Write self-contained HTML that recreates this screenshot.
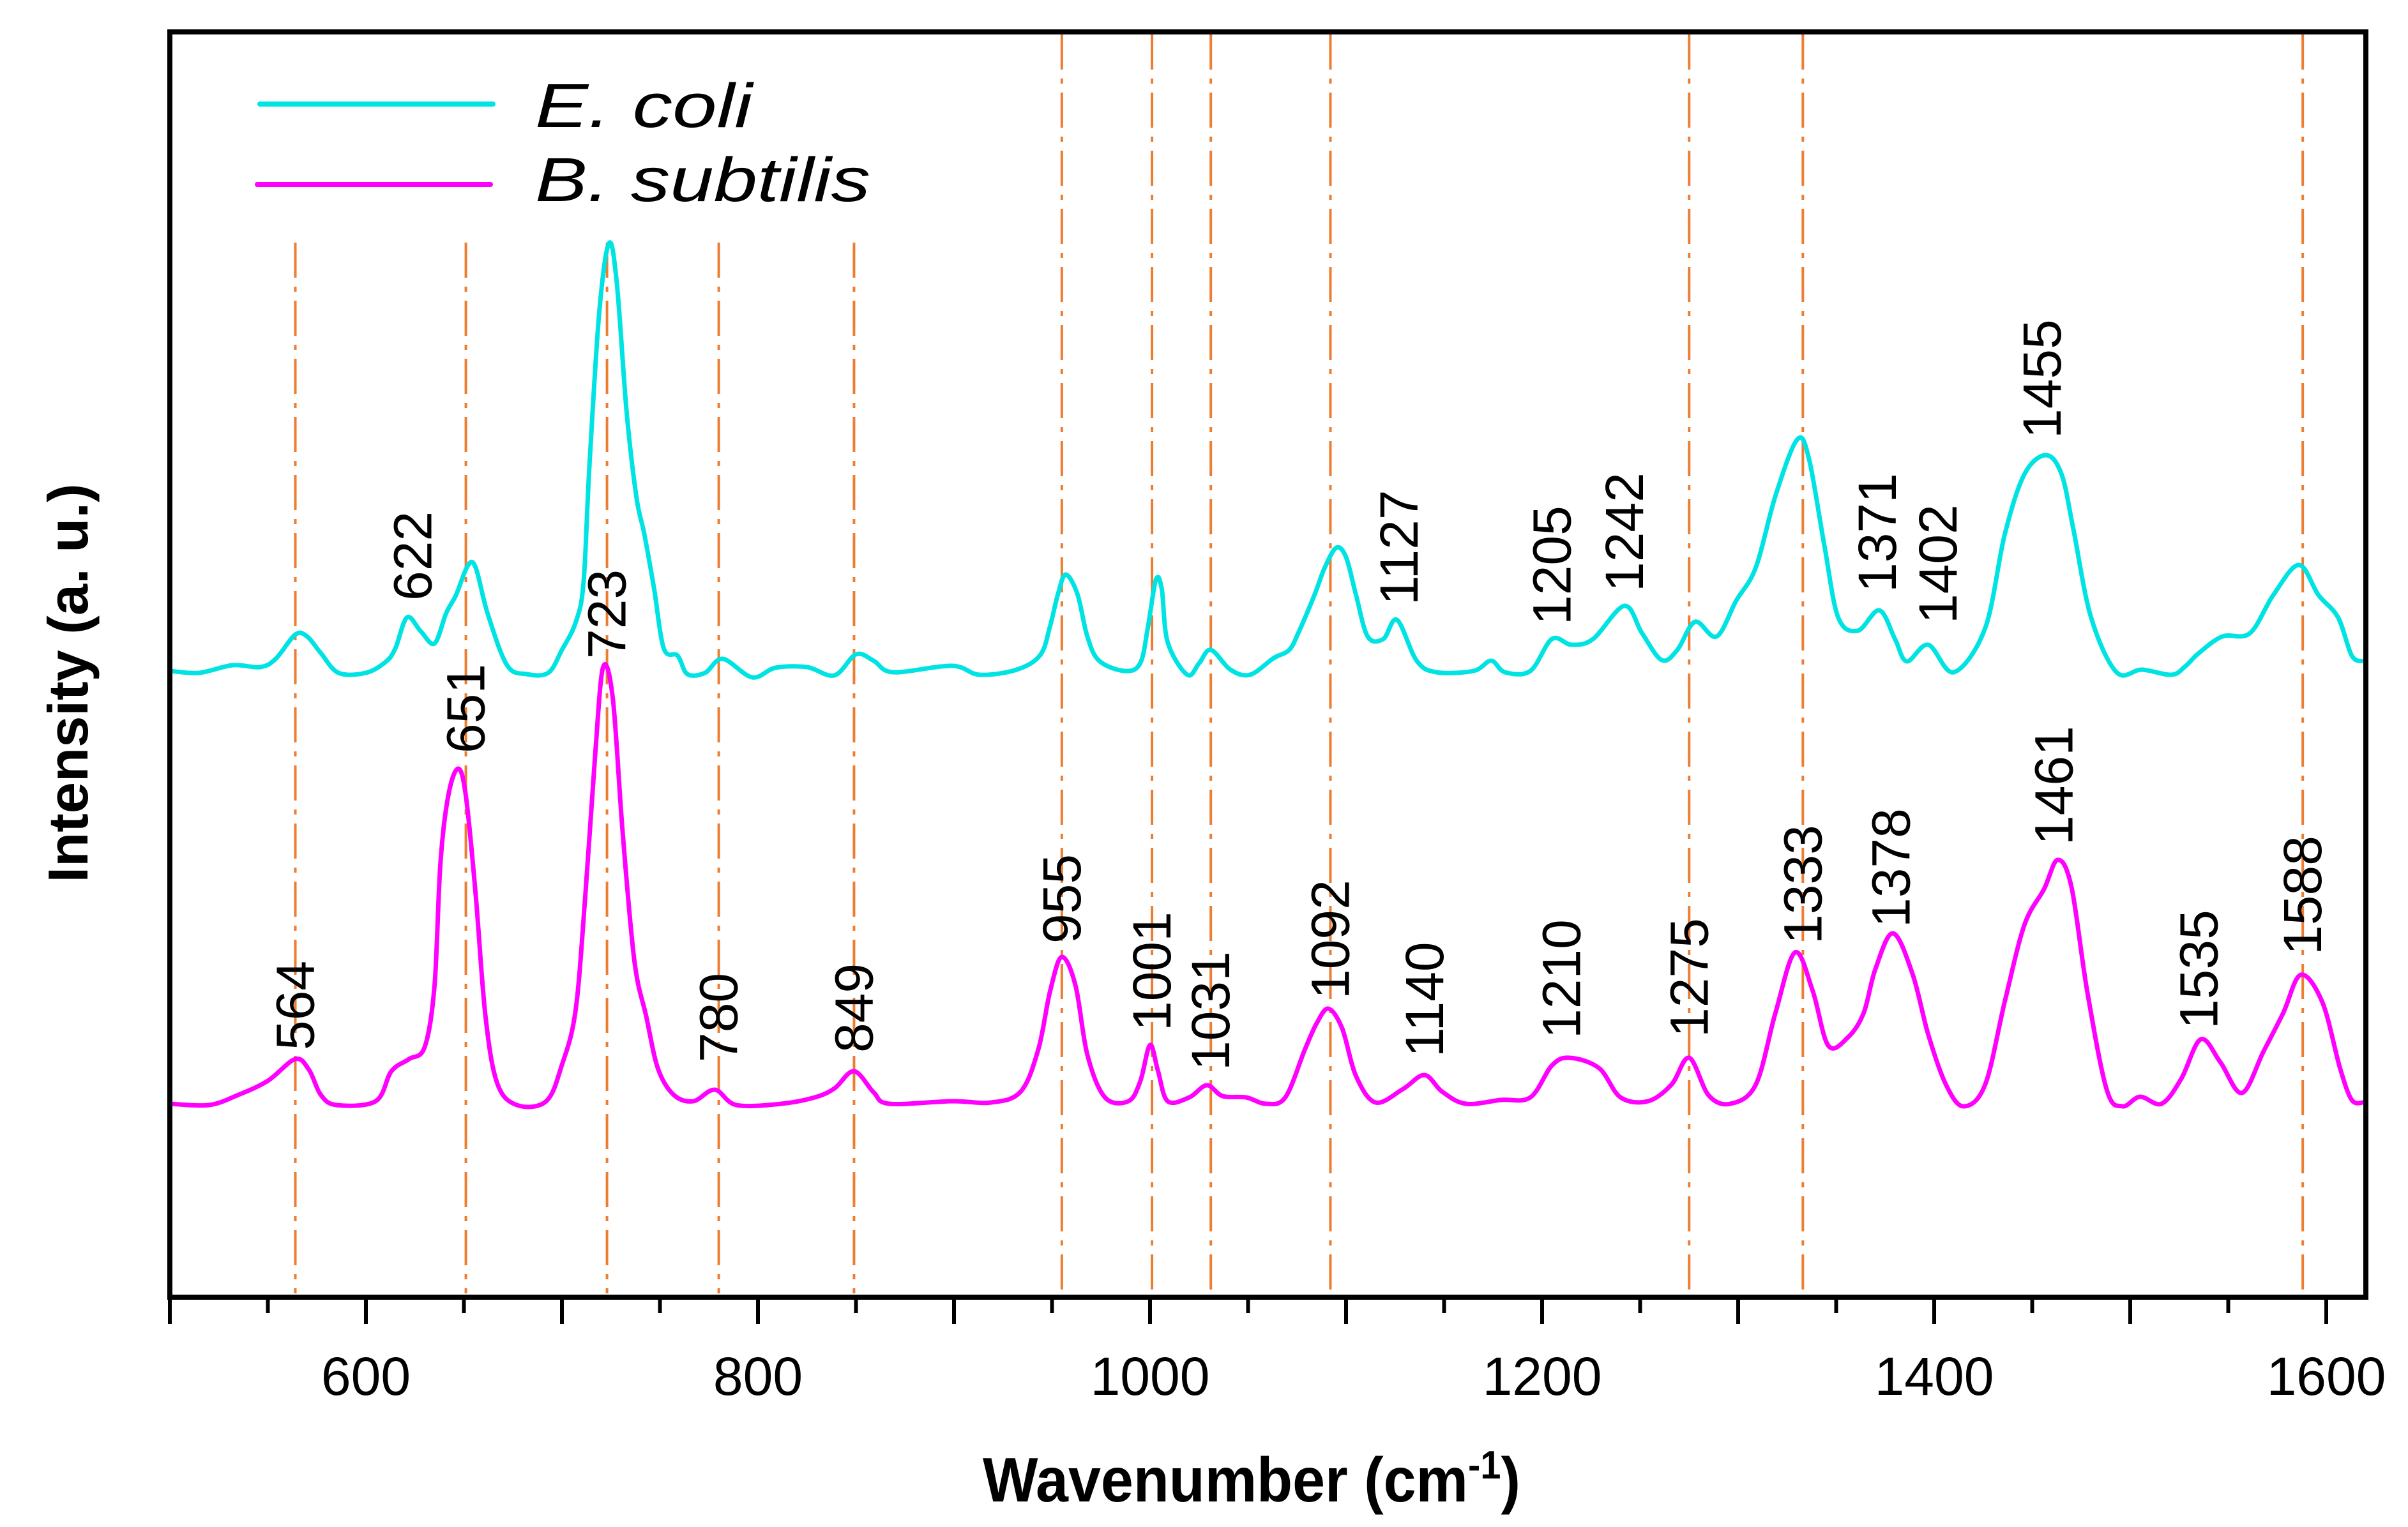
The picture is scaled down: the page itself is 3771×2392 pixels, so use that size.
<!DOCTYPE html>
<html><head><meta charset="utf-8"><title>Raman spectra</title>
<style>html,body{margin:0;padding:0;background:#fff;}svg{display:block;}</style></head>
<body>
<svg id="chart" xmlns="http://www.w3.org/2000/svg" width="3771" height="2392" viewBox="0 0 3771 2392" font-family="'Liberation Sans', sans-serif">
<rect x="0" y="0" width="3771" height="2392" fill="#fff"/>
<g id="refLines"></g>
<g id="series"></g>
<g id="peakLabels"></g>
<rect x="266" y="50" width="3439" height="1982" fill="none" stroke="#000" stroke-width="8"/>
<g id="ticks"></g>
<g>
  <line x1="407" y1="163" x2="772" y2="163" stroke="#00E3E3" stroke-width="8" stroke-linecap="round"/>
  <text x="838" y="199" font-size="97" font-style="italic" textLength="340" lengthAdjust="spacingAndGlyphs">E. coli</text>
  <line x1="403" y1="289" x2="768" y2="289" stroke="#FF00FF" stroke-width="8" stroke-linecap="round"/>
  <text x="838" y="315" font-size="97" font-style="italic" textLength="525" lengthAdjust="spacingAndGlyphs">B. subtilis</text>
</g>
<text x="1960" y="2352" font-size="98" font-weight="bold" text-anchor="middle" textLength="842" lengthAdjust="spacingAndGlyphs">Wavenumber (cm<tspan font-size="62" dy="-36">-1</tspan><tspan dy="36">)</tspan></text>
<text transform="translate(137,1070) rotate(-90)" x="0" y="0" font-size="88" font-weight="bold" text-anchor="middle" textLength="625" lengthAdjust="spacingAndGlyphs">Intensity (a. u.)</text>
</svg>
<script>
const ecoliWn=[500,515,532,546,554,564,570,577,586,600,610,615,621,628,635,641,646,652,656,662,672,682,693,700,707,711,714,719,724,728,733,738,742,747,752,759,764,773,782,797,809,825,839,850,859,869,899,913,932,944,949,953,957,963,968,974,987,995,999,1003,1006,1009,1019,1025,1031,1041,1051,1063,1071,1076,1084,1089,1095,1100,1105,1111,1119,1126,1136,1146,1165,1174,1181,1194,1205,1215,1226,1242,1251,1261,1269,1278,1289,1299,1309,1319,1330,1336,1344,1351,1361,1372,1380,1386,1397,1410,1426,1436,1446,1457,1465,1471,1480,1493,1506,1521,1528,1535,1547,1561,1573,1586,1596,1606,1613,1619];
const ecoliI=[0,-3,9,6,19,57,54,28,-3,-3,14,35,84,62,43,91,119,165,162,91,9,-5,-3,33,76,138,320,560,670,607,406,272,215,129,35,24,-5,-3,19,-10,5,6,-7,26,16,-2,8,-6,2,25,70,120,151,120,54,16,0,12,70,143,128,45,-6,12,33,2,-6,20,33,62,120,161,193,178,120,54,50,80,16,-2,0,16,-2,0,50,41,50,102,59,17,33,77,54,110,162,274,362,334,196,84,63,95,50,15,41,-2,67,214,308,338,308,222,84,-2,2,-6,7,28,54,59,119,166,119,84,24,15];
const bsubWn=[500,520,535,550,564,571,577,585,605,613,622,630,635,638,642,647,651,656,661,667,677,692,700,707,712,717,721,726,731,737,743,749,757,767,778,789,812,829,839,849,859,867,899,919,934,943,949,955,962,968,977,989,995,1000,1004,1009,1020,1029,1037,1049,1059,1069,1079,1085,1091,1098,1105,1115,1129,1140,1149,1161,1179,1194,1205,1214,1229,1240,1254,1266,1275,1285,1296,1309,1319,1329,1338,1346,1356,1364,1370,1379,1389,1397,1406,1415,1426,1436,1446,1456,1463,1470,1478,1488,1496,1505,1516,1526,1536,1546,1557,1568,1578,1587,1598,1607,1613,1619];
const bsubI=[0,-2,14,36,70,53,14,-2,4,51,70,89,185,376,482,525,482,328,137,32,-2,4,61,147,329,549,684,634,424,223,137,55,14,4,22,-2,0,10,24,51,18,0,4,2,19,85,176,230,185,77,10,4,35,92,52,4,10,29,12,10,0,10,85,126,149,118,44,2,23,45,19,0,6,10,60,72,56,10,4,30,72,13,0,30,142,237,177,91,104,142,211,267,203,108,30,-4,30,160,280,336,382,340,177,22,-4,11,0,39,101,65,17,82,142,202,159,56,6,2];
const refTopWn=[955,1001,1031,1092,1275,1333,1588];
const refLowWn=[564,651,723,780,849];
const ecoliLabels=["622","1127","1205","1242","1371","1402","1455"];
const ecoliLabelWn=[624,1127,1205,1242,1371,1402,1455];
const bsubLabels=["564","651","723","780","849","955","1001","1031","1092","1140","1210","1275","1333","1378","1461","1535","1588"];
const bsubLabelWn=[564,651,723,780,849,955,1001,1031,1092,1140,1210,1275,1333,1378,1461,1535,1588];
const tickLabels=["600","800","1000","1200","1400","1600"];
const tickLabelVals=[600,800,1000,1200,1400,1600];

const NS="http://www.w3.org/2000/svg";
const X0=266, XPX=3.07, WN0=500;
function xs(v){return X0+(v-WN0)*XPX;}
const ECOLI_BASE=1051, BSUB_BASE=1729;
function ys(base,v){return base-v;}
const ecoliLabelY=[941,948,979,927,928,977,687];
const bsubLabelY=[1645,1180,1032,1664,1649,1478,1615,1677,1565,1656,1627,1625,1479,1453,1324,1612,1496];

function mk(tag,attrs,parent){const e=document.createElementNS(NS,tag);for(const k in attrs)e.setAttribute(k,attrs[k]);parent.appendChild(e);return e;}

const refG=document.getElementById('refLines');
refTopWn.forEach(w=>{
  const l=mk('line',{x1:xs(w),x2:xs(w),y1:54,y2:2026,stroke:'#ED7D31','stroke-width':4,'stroke-dasharray':'55 14 8 14'},refG);
  
  
});
refLowWn.forEach(w=>{
  const l=mk('line',{x1:xs(w),x2:xs(w),y1:380,y2:2026,stroke:'#ED7D31','stroke-width':4,'stroke-dasharray':'55 14 8 14'},refG);
  
  
});

const sG=document.getElementById('series');
function pathFor(wn,vals,base){
  const P=wn.map((w,i)=>[xs(w),ys(base,vals[i])]);
  let d='M'+P[0][0].toFixed(1)+','+P[0][1].toFixed(1);
  for(let i=0;i<P.length-1;i++){
    const p0=P[Math.max(0,i-1)],p1=P[i],p2=P[i+1],p3=P[Math.min(P.length-1,i+2)];
    const c1x=p1[0]+(p2[0]-p0[0])/6,c1y=p1[1]+(p2[1]-p0[1])/6;
    const c2x=p2[0]-(p3[0]-p1[0])/6,c2y=p2[1]-(p3[1]-p1[1])/6;
    d+=' C'+c1x.toFixed(1)+','+c1y.toFixed(1)+' '+c2x.toFixed(1)+','+c2y.toFixed(1)+' '+p2[0].toFixed(1)+','+p2[1].toFixed(1);
  }
  return d;
}
const pE=mk('path',{d:pathFor(ecoliWn,ecoliI,ECOLI_BASE),fill:'none',stroke:'#00E3E3','stroke-width':7,'stroke-linejoin':'round'},sG);


const pB=mk('path',{d:pathFor(bsubWn,bsubI,BSUB_BASE),fill:'none',stroke:'#FF00FF','stroke-width':7,'stroke-linejoin':'round'},sG);



const lG=document.getElementById('peakLabels');
function addLabel(txt,w,y,name){
  const x=xs(w)+29;
  const t=mk('text',{x:x,y:y,'font-size':84,transform:'rotate(-90 '+x+' '+y+')'},lG);
  t.textContent=txt;
  
  
}
ecoliLabels.forEach((s,i)=>addLabel(s,ecoliLabelWn[i],ecoliLabelY[i],'e-coli-peak-label-'+s));
bsubLabels.forEach((s,i)=>addLabel(s,bsubLabelWn[i],bsubLabelY[i],'b-subtilis-peak-label-'+s));

const tG=document.getElementById('ticks');
for(let v=500;v<=1600;v+=50){
  const major=(v%100===0);
  const tk=mk('line',{x1:xs(v),x2:xs(v),y1:2032,y2:2032+(major?42:25),stroke:'#000','stroke-width':6},tG);
  
  
}
tickLabels.forEach((s,i)=>{
  const t=mk('text',{x:xs(tickLabelVals[i]),y:2185,'font-size':84,'text-anchor':'middle'},tG);
  t.textContent=s;
  
  
});
</script>
</body></html>
